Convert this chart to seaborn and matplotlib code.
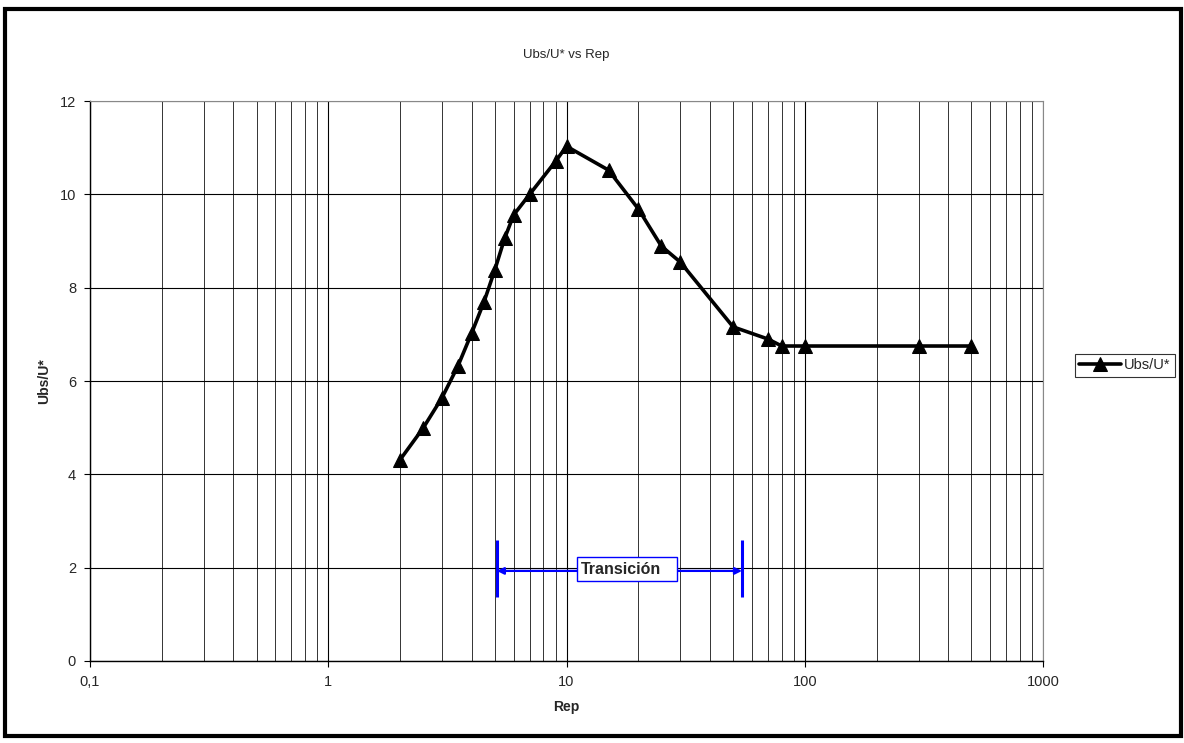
import matplotlib
matplotlib.use("Agg")
import matplotlib.pyplot as plt
import matplotlib.ticker as mticker
from matplotlib.patches import Rectangle
import seaborn as sns
import pandas as pd

# Rep values and Ubs/U*
rep = [2, 2.5, 3, 3.5, 4, 4.5, 5, 5.5, 6, 7, 9, 10, 15, 20, 25, 30, 50, 70, 80, 100, 300, 500]
ubs_u = [4.31, 4.99, 5.64, 6.32, 7.03, 7.69, 8.38, 9.06, 9.56, 10.0, 10.71, 11.03,
         10.52, 9.69, 8.89, 8.55, 7.16, 6.9, 6.75, 6.75, 6.75, 6.75]
x_ticks = [0.1, 1, 10, 100, 1000]
x_labels = ["0,1", "1", "10", "100", "1000"]
y_ticks = [0, 2, 4, 6, 8, 10, 12]

df = pd.DataFrame({"Rep": rep, "Ubs/U*": ubs_u})

sns.set_style("white")
plt.rcParams["font.family"] = ["Liberation Sans", "DejaVu Sans"]

fig = plt.figure(figsize=(11.84, 7.43), dpi=100)
ax = fig.add_axes([0.076, 0.1104, 0.805, 0.7536])

sns.lineplot(data=df, x="Rep", y="Ubs/U*", marker="^", markersize=10, color="black",
             linewidth=2.6, markeredgecolor="black", sort=False, ax=ax, label="Ubs/U*")

ax.set_xscale("log")
ax.set_xlim(0.1, 1000)
ax.set_ylim(0, 12)
ax.set_xticks(x_ticks)
ax.xaxis.set_major_formatter(mticker.FixedFormatter(x_labels))
ax.xaxis.set_minor_locator(mticker.LogLocator(base=10, subs=range(2, 10)))
ax.xaxis.set_minor_formatter(mticker.NullFormatter())
ax.set_yticks(y_ticks)

ax.grid(True, which="major", color="black", linewidth=0.8)
ax.grid(True, which="minor", axis="x", color="#333333", linewidth=0.7)
ax.tick_params(axis="both", which="major", direction="out", length=4, width=0.8,
               labelsize=10.5, color="black", bottom=True, left=True, pad=6)
ax.tick_params(axis="x", which="minor", length=0)

for side in ["left", "bottom"]:
    ax.spines[side].set_color("black")
    ax.spines[side].set_linewidth(1.0)
for side in ["top", "right"]:
    ax.spines[side].set_color("#888888")
    ax.spines[side].set_linewidth(0.8)

ax.set_xlabel("Rep", fontsize=10, fontweight="bold", labelpad=8)
ax.set_ylabel("Ubs/U*", fontsize=10, fontweight="bold", labelpad=6)
ax.set_title("Ubs/U* vs Rep", fontsize=9.5, pad=31)

# transition zone annotation
ax.vlines([5.1, 54.5], 1.37, 2.59, colors="blue", linewidth=2.2)
ax.annotate("", xy=(5.1, 1.93), xytext=(11.1, 1.93),
            arrowprops=dict(arrowstyle="-|>", color="blue", lw=1.6, mutation_scale=10,
                            shrinkA=0, shrinkB=0))
ax.annotate("", xy=(54.5, 1.93), xytext=(29.1, 1.93),
            arrowprops=dict(arrowstyle="-|>", color="blue", lw=1.6, mutation_scale=10,
                            shrinkA=0, shrinkB=0))
ax.add_patch(Rectangle((11.1, 1.71), 18.0, 0.52, facecolor="white", edgecolor="blue",
                       linewidth=1, zorder=4))
ax.text(11.5, 1.97, "Transición", ha="left", va="center", fontsize=11.5, fontweight="bold",
        zorder=5)

leg = ax.legend(loc="center", bbox_to_anchor=(0.95, 0.5085), bbox_transform=fig.transFigure,
                frameon=True, fancybox=False, fontsize=10.5, handlelength=2.9,
                handletextpad=0.2, borderpad=0.3, borderaxespad=0)
leg.get_frame().set_edgecolor("black")
leg.get_frame().set_linewidth(0.8)

fig.patches.append(Rectangle((0.0045, 0.0094), 0.993, 0.9786, transform=fig.transFigure,
                             fill=False, edgecolor="black", linewidth=3))

fig.savefig("out.png", dpi=100)
plt.close(fig)
